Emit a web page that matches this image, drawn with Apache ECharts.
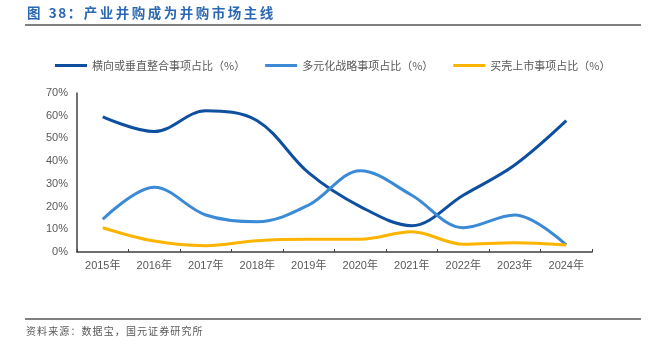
<!DOCTYPE html>
<html>
<head>
<meta charset="utf-8">
<script src="https://cdn.jsdelivr.net/npm/echarts@6/dist/echarts.min.js"></script>
<style>
html,body{margin:0;padding:0;background:#fff;}
#c{width:652px;height:347px;}
</style>
</head>
<body>
<div id="c"></div>
<script>
const categories = ['2015年','2016年','2017年','2018年','2019年','2020年','2021年','2022年','2023年','2024年'];
const seriesNames = ['横向或垂直整合事项占比（%）','多元化战略事项占比（%）','买壳上市事项占比（%）'];
const verticalShare = [59.5, 53.0, 62.2, 57.8, 34.8, 20.0, 11.6, 25.0, 38.3, 57.8];
const diversifiedShare = [14.4, 28.5, 16.3, 13.3, 20.7, 35.8, 25.0, 10.7, 16.3, 3.1];
const backdoorShare = [10.7, 4.8, 2.8, 5.0, 5.6, 5.6, 8.9, 3.4, 4.1, 3.1];
const yTicks = [0, 10, 20, 30, 40, 50, 60, 70];
const titleText = '图 38：产业并购成为并购市场主线';
const sourceText = '资料来源：数据宝，国元证券研究所';

const colors = ['#0f4fa0', '#3a8ad6', '#fbb400'];
const chart = echarts.init(document.getElementById('c'), null, {renderer: 'canvas'});
const font = '"Liberation Sans", Arial, "Noto Sans CJK SC", sans-serif';
const cjk = '"Noto Sans CJK SC", sans-serif';

function spacedText(str, x0, y, pitchCJK, pitchOther, style) {
  const out = [];
  let x = x0;
  for (const ch of str) {
    const isCJK = /[\u3000-\u9fff\uff00-\uffef]/.test(ch);
    out.push({type: 'text', x: x, y: y, style: Object.assign({text: ch, textVerticalAlign: 'middle'}, style)});
    x += ch === ' ' ? pitchOther * 0.6 : (isCJK ? pitchCJK : pitchOther);
  }
  return out;
}
const titleEls = spacedText(titleText, 27, 13, 16, 9.5, {fill: '#2b68b2', font: 'bold 13.5px ' + cjk});
const sourceEls = spacedText(sourceText, 26, 331, 11.1, 11.1, {fill: '#595959', font: '10px ' + cjk});

chart.setOption({
  animation: false,
  color: colors,
  textStyle: {fontFamily: font},
  grid: {left: 77, right: 60, top: 93, bottom: 95, containLabel: false},
  legend: {
    top: 60,
    left: 55,
    padding: 0,
    itemWidth: 32,
    itemHeight: 3,
    itemGap: 20,
    icon: 'rect',
    textStyle: {fontFamily: cjk, fontSize: 11, color: '#595959'},
    data: seriesNames
  },
  xAxis: {
    type: 'category',
    data: categories,
    boundaryGap: true,
    axisLine: {lineStyle: {color: '#404040', width: 1.5}},
    axisTick: {show: true, inside: true, length: 3, lineStyle: {color: '#404040'}},
    axisLabel: {color: '#595959', fontSize: 11, margin: 8, fontFamily: font}
  },
  yAxis: {
    type: 'value',
    min: yTicks[0],
    max: yTicks[yTicks.length - 1],
    interval: 10,
    axisLine: {show: true, lineStyle: {color: '#404040', width: 1.5}},
    axisTick: {show: false},
    splitLine: {show: false},
    axisLabel: {color: '#595959', fontSize: 11, margin: 9, formatter: v => v + '%'}
  },
  series: [
    {name: seriesNames[0], type: 'line', data: verticalShare, smooth: 0.35, symbol: 'none', lineStyle: {width: 3}},
    {name: seriesNames[1], type: 'line', data: diversifiedShare, smooth: 0.35, symbol: 'none', lineStyle: {width: 3}},
    {name: seriesNames[2], type: 'line', data: backdoorShare, smooth: 0.35, symbol: 'none', lineStyle: {width: 3}}
  ],
  graphic: [
    {type: 'group', children: titleEls},
    {type: 'line', shape: {x1: 25, y1: 25, x2: 641, y2: 25}, style: {stroke: '#000', lineWidth: 1.2}},
    {type: 'line', shape: {x1: 25, y1: 319, x2: 641, y2: 319}, style: {stroke: '#000', lineWidth: 1.2}},
    {type: 'group', children: sourceEls}
  ]
});
</script>
</body>
</html>
